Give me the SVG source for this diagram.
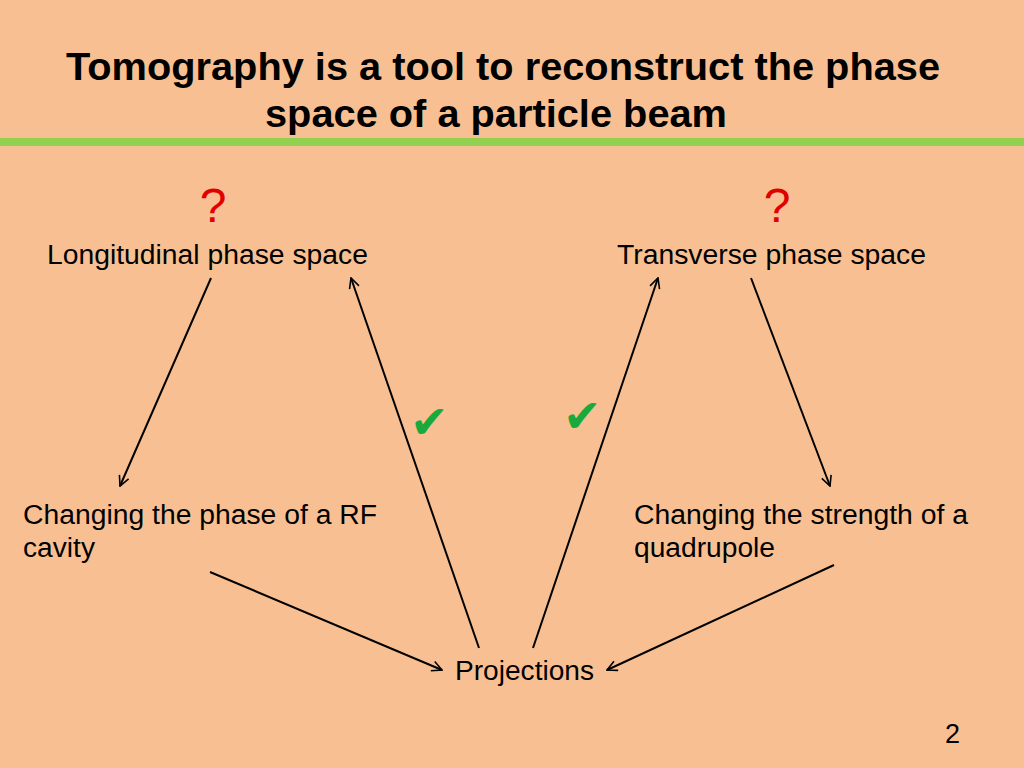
<svg xmlns="http://www.w3.org/2000/svg" width="1024" height="768" viewBox="0 0 1024 768">
<style>
.t{font-family:"Liberation Sans",Arial,sans-serif;font-size:27px;fill:#000}
.h{font-family:"Liberation Sans",Arial,sans-serif;font-size:39px;font-weight:bold;fill:#000}
.q{font-family:"Liberation Sans",Arial,sans-serif;font-size:48px;fill:#e00000}
.c{font-family:"DejaVu Sans",sans-serif;font-size:46px;fill:#1aaa3c}
.l{stroke:#000;stroke-width:2;fill:none;marker-end:url(#a)}
</style>
<defs><marker id="a" viewBox="0 0 12 12" refX="11" refY="6" markerWidth="12" markerHeight="12" markerUnits="userSpaceOnUse" orient="auto"><path d="M1,1 L11,6 L1,11" fill="none" stroke="#000" stroke-width="1.6"/></marker></defs>
<rect width="1024" height="768" fill="#f8c092"/>
<rect x="0" y="138" width="1024" height="8" fill="#92d050"/>
<text class="h" x="66" y="80" textLength="874" lengthAdjust="spacingAndGlyphs">Tomography is a tool to reconstruct the phase</text>
<text class="h" x="265" y="127" textLength="462" lengthAdjust="spacingAndGlyphs">space of a particle beam</text>
<g id="q1"><text class="q" x="213" y="222" text-anchor="middle">?</text></g>
<g id="q2"><text class="q" x="777" y="222" text-anchor="middle">?</text></g>
<g id="long"><text class="t" x="47" y="264" textLength="321" lengthAdjust="spacingAndGlyphs">Longitudinal phase space</text></g>
<g id="trans"><text class="t" x="617" y="264" textLength="309" lengthAdjust="spacingAndGlyphs">Transverse phase space</text></g>
<g id="rf"><text class="t" x="23" y="524" textLength="354" lengthAdjust="spacingAndGlyphs">Changing the phase of a RF</text><text class="t" x="23" y="557" textLength="72" lengthAdjust="spacingAndGlyphs">cavity</text></g>
<g id="quad"><text class="t" x="634" y="524" textLength="334" lengthAdjust="spacingAndGlyphs">Changing the strength of a</text><text class="t" x="634" y="557" textLength="141" lengthAdjust="spacingAndGlyphs">quadrupole</text></g>
<g id="proj"><text class="t" x="455" y="680" textLength="139" lengthAdjust="spacingAndGlyphs">Projections</text></g>
<g id="checks"><text class="c" x="410" y="438">✔</text><text class="c" x="563" y="432">✔</text></g>
<text class="t" x="945" y="743">2</text>
<g id="connectors">
<line class="l" x1="211" y1="278" x2="120" y2="486"/>
<line class="l" x1="751" y1="278" x2="830" y2="486"/>
<line class="l" x1="210" y1="572" x2="442" y2="670"/>
<line class="l" x1="834" y1="565" x2="607" y2="670"/>
<line class="l" x1="479" y1="648" x2="351" y2="278"/>
<line class="l" x1="533" y1="648" x2="658" y2="278"/>
</g>
</svg>
